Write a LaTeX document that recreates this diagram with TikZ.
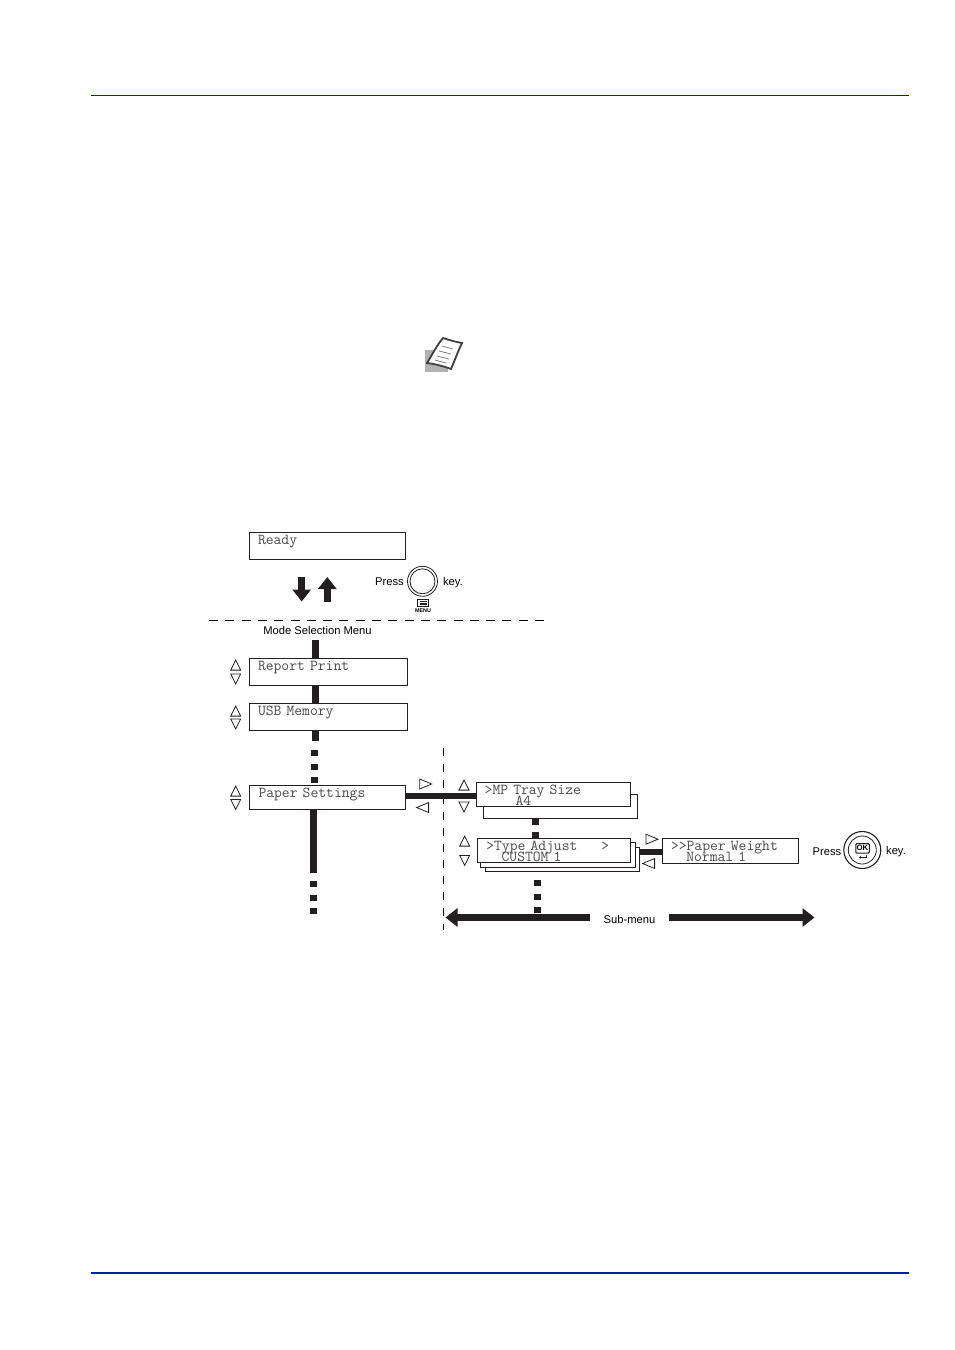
\documentclass[tikz,border=0pt]{standalone}
\usepackage{fontspec}
\setmainfont{Liberation Sans}
\usepackage{tikz}
\usetikzlibrary{arrows.meta, shapes.geometric}
\definecolor{footblue}{RGB}{0,32,160}
\definecolor{barblack}{RGB}{35,31,32}
\newcommand{\lcdfont}{\fontsize{15.2}{11.2}\selectfont\ttfamily\fontdimen2\font=7.67pt\lineskiplimit=-10pt\color{black!70}}
\tikzset{
  lcd/.style={draw=barblack,line width=1pt,fill=white,anchor=north west,outer sep=0pt,inner ysep=0pt,inner xsep=9pt,
    align=left,text width=#1-18pt,text depth=12.5pt,font=\lcdfont},
  back/.style={draw=barblack,line width=1pt,fill=white,anchor=north west,outer sep=0pt,inner sep=0pt},
  bar/.style={draw=barblack,line width=7pt},
  dots/.style={draw=barblack,line width=7pt,dash pattern=on 6pt off 7.5pt},
  tri/.style={isosceles triangle,isosceles triangle stretches,draw=barblack,line width=0.8pt,inner sep=0pt,
    minimum width=10pt,minimum height=10pt,shape border rotate=#1,
    xshift={-2pt*cos(#1)},yshift={-2pt*sin(#1)}},
  lbl/.style={font=\fontsize{11.2}{12}\selectfont,inner sep=0pt,text height=8pt,text depth=0pt,text=black},
  bigarrow/.style={draw=barblack,line width=7pt,-{Triangle[length=12pt,width=18pt]}}
}

\begin{document}
\begin{tikzpicture}[x=1pt,y=-1pt]
\useasboundingbox (0,0) rectangle (954,1350);

\coordinate (headl) at (91,95.7);
\coordinate (headr) at (909,95.7);
\coordinate (footl) at (91,1273);
\coordinate (footr) at (909,1273);
\draw[line width=1pt,footblue] (headl)--(headr);
\draw[line width=2pt,footblue] (footl)--(footr);

\fill[black!30] (425,350) rectangle (448,372);
\draw[line width=1.8pt,black!75,fill=white] (443,338) .. controls (437,345) and (432,355) .. (427,363) .. controls (435,364) and (443,366) .. (451,369) .. controls (455,360) and (458,351) .. (462,343) .. controls (456,342) and (449,340) .. (443,338) -- cycle;
\draw[black!50,line width=0.8pt] (442,346)--(453,349) (439,351)--(451,354) (437,356)--(449,359) (435,360)--(446,363);

\node[lcd=156.5pt,minimum height=27pt] (ready) at (249,532.5) {Ready\\~};
\node[lcd=158.5pt,minimum height=27pt] (report) at (249,658.5) {Report Print\\~};
\node[lcd=158.5pt,minimum height=27pt] (usb) at (249,703.5) {USB Memory\\~};
\node[lcd=156pt,minimum height=24.5pt,text depth=8.5pt] (paper) at (249.5,785) {Paper Settings\\~};

\coordinate (menutop) at (315.5,640);
\coordinate (usbend) at (315.5,741);
\coordinate (dotsa) at (314.5,750);
\coordinate (dotsb) at (314.5,783);
\coordinate (papbar) at (313.8,809);
\coordinate (papend) at (313.8,873);
\coordinate (dotsc) at (313.5,881);
\coordinate (dotsd) at (313.5,914);

\draw[bar] (menutop)--(report.north -| menutop);
\draw[bar] (report.south -| menutop)--(usb.north -| menutop);
\draw[bar] (usb.south -| menutop)--(usbend);
\draw[dots] (dotsa)--(dotsb);
\draw[bar] (papbar)--(papend);
\draw[dots] (dotsc)--(dotsd);

\node[lbl] (modemenu) at (317.5,630.3) {Mode Selection Menu};

\coordinate (downa) at (301.7,577);
\coordinate (downb) at (301.7,601.5);
\coordinate (upa) at (327.3,601.5);
\coordinate (upb) at (327.3,577);
\draw[bigarrow] (downa)--(downb);
\draw[bigarrow] (upa)--(upb);

\node[lbl] (pressa) at (389.5,581) {Press};
\node[lbl] (keya) at (453,581) {key.};
\node[circle,draw=barblack,line width=0.8pt,minimum size=30pt,inner sep=0pt] (menuo) at (422.5,581.3) {};
\node[circle,draw=barblack,line width=0.8pt,minimum size=25pt,inner sep=0pt] (menui) at (422.5,581.3) {};
\node[rectangle,draw=barblack,line width=0.8pt,minimum width=11pt,minimum height=7pt,inner sep=0pt] (menuic) at (422.4,602.8) {};
\draw[barblack,line width=0.6pt] (419.5,601.1)--(426.5,601.1) (419.5,602.8)--(426.5,602.8) (419.5,604.5)--(426.5,604.5);
\node[font=\bfseries\fontsize{5.4}{6}\selectfont,inner sep=0pt] (menut) at (423,610.6) {MENU};

\coordinate (dasha) at (209,620.5);
\coordinate (dashb) at (546,620.5);
\coordinate (dashc) at (443.5,748);
\coordinate (dashd) at (443.5,930);
\draw[line width=0.8pt,dash pattern=on 9pt off 7.3pt] (dasha)--(dashb);
\draw[line width=0.8pt,dash pattern=on 8pt off 8pt] (dashc)--(dashd);

\node[tri=90] (ru) at (235.7,665) {};
\node[tri=270] (rd) at (235.7,679) {};
\node[tri=90] (uu) at (235.7,711) {};
\node[tri=270] (ud) at (235.7,724) {};
\node[tri=90] (pu) at (235.7,791) {};
\node[tri=270] (pd) at (235.7,804.5) {};
\node[tri=90] (mu) at (464,785) {};
\node[tri=270] (md) at (464,807) {};
\node[tri=90] (tu) at (464.7,841) {};
\node[tri=270] (td) at (464.7,860.5) {};
\node[tri=0,minimum height=12pt] (pr) at (425,784) {};
\node[tri=180,minimum height=12pt] (pl) at (423.3,807.5) {};
\node[tri=0,minimum height=12pt] (tr) at (651.3,839.2) {};
\node[tri=180,minimum height=12pt] (tl) at (649.3,863.5) {};

\node[back,minimum width=154pt,minimum height=24.3pt] (mpback) at (483,794) {};
\node[lcd=153.5pt,minimum height=24.5pt,text depth=9.5pt] (mp) at (476.5,782) {\hspace*{-0.8pt}>MP Tray Size\\\hspace*{30pt}A4};
\draw[draw=barblack,line width=6pt] (paper.east |- 0,795.7)--(mp.west |- 0,795.7);

\node[back,minimum width=154.7pt,minimum height=24.7pt] (tyback) at (485,847) {};
\node[back,minimum width=154.5pt,minimum height=24.7pt] (tymid) at (480.5,842.6) {};
\node[lcd=153.5pt,minimum height=24pt,text depth=9.5pt] (ty) at (477.3,838.3) {>Type Adjust\hspace*{24pt}>\\\hspace*{15.3pt}CUSTOM 1};

\node[lcd=136.7pt,minimum height=25pt,text depth=9.5pt] (wt) at (662,838.3) {>>Paper Weight\\\hspace*{15.3pt}Normal 1};
\draw[draw=barblack,line width=6pt] (tyback.east |- 0,851.7)--(wt.west |- 0,851.7);

\coordinate (mpdota) at (535.3,818.3);
\coordinate (mpdotb) at (535.3,838.3);
\coordinate (tydota) at (537,880);
\coordinate (tydotb) at (537,913);
\draw[draw=barblack,line width=7pt,dash pattern=on 6.5pt off 7pt] (mpdota)--(mpdotb);
\draw[dots] (tydota)--(tydotb);

\node[lbl,inner xsep=13.5pt] (sub) at (629.5,919.3) {Sub-menu};
\coordinate (subl) at (445.5,917.5);
\coordinate (subr) at (814.5,917.5);
\draw[bigarrow] (sub.west |- subl)--(subl);
\draw[bigarrow] (sub.east |- subr)--(subr);

\node[lbl] (pressb) at (827,851) {Press};
\node[lbl] (keyb) at (896,850.3) {key.};
\node[circle,draw=barblack,line width=1.1pt,minimum size=37pt,inner sep=0pt] (oko) at (862.3,850) {};
\node[circle,draw=barblack,line width=0.8pt,minimum size=28pt,inner sep=0pt] (oki) at (862.3,850) {};
\node[rectangle,rounded corners=1pt,draw=barblack,line width=1pt,minimum width=13.5pt,minimum height=9.5pt,inner sep=0pt,font=\bfseries\fontsize{7.8}{8}\selectfont] (okt) at (862.5,848.3) {OK};
\draw[barblack,line width=0.7pt,-{Stealth[length=2pt,width=3pt]}] (866,854.5)--(866,857.3)--(859,857.3);

\end{tikzpicture}
\end{document}
